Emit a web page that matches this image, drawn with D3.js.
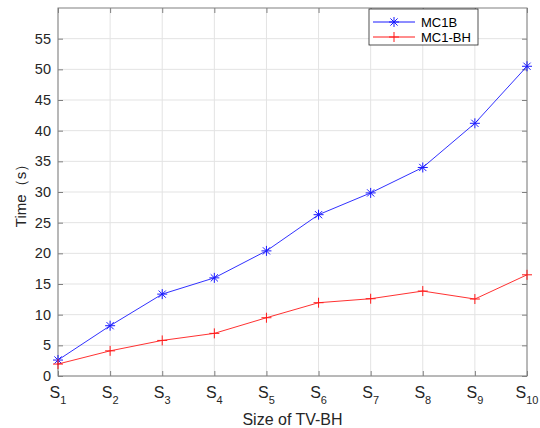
<!DOCTYPE html>
<html>
<head>
<meta charset="utf-8">
<script src="https://cdn.jsdelivr.net/npm/d3@7"></script>
<style>
  body { margin: 0; background: #fff; }
  svg text { font-family: "Liberation Sans", Arial, sans-serif; }
</style>
</head>
<body>
<svg id="chart" width="540" height="428"></svg>
<script>
// data
var sizes = ["1", "2", "3", "4", "5", "6", "7", "8", "9", "10"];
var mc1b = [2.6, 8.2, 13.35, 16.0, 20.4, 26.3, 29.85, 34.0, 41.2, 50.5];
var mc1bh = [1.95, 4.1, 5.8, 6.95, 9.5, 11.95, 12.6, 13.85, 12.55, 16.5];
var yTicks = [0, 5, 10, 15, 20, 25, 30, 35, 40, 45, 50, 55];

// plot box (note: "top" is taken by window.top)
var plotL = 58, plotR = 527, plotT = 8, plotB = 376;

var svg = d3.select("#chart");

var x = d3.scalePoint()
    .domain(sizes)
    .range([plotL, plotR]);

var y = d3.scaleLinear()
    .domain([0, 60])
    .range([plotB, plotT]);

// grid
svg.append("g")
    .selectAll("line")
    .data(sizes)
    .enter().append("line")
    .attr("x1", function (d) { return x(d); })
    .attr("x2", function (d) { return x(d); })
    .attr("y1", plotT)
    .attr("y2", plotB)
    .style("stroke", "#e3e3e3");

svg.append("g")
    .selectAll("line")
    .data(yTicks)
    .enter().append("line")
    .attr("x1", plotL)
    .attr("x2", plotR)
    .attr("y1", function (d) { return y(d); })
    .attr("y2", function (d) { return y(d); })
    .style("stroke", "#e3e3e3");

// axes (ticks point inward, like matlab)
var axisColor = "#808080";
var xAxis = svg.append("g")
    .attr("transform", "translate(0," + plotB + ")")
    .call(d3.axisBottom(x).tickSize(-5).tickFormat(""));
var xTop = svg.append("g")
    .attr("transform", "translate(0," + plotT + ")")
    .call(d3.axisTop(x).tickSize(-5).tickFormat(""));
var yAxis = svg.append("g")
    .attr("transform", "translate(" + plotL + ",0)")
    .call(d3.axisLeft(y).tickValues(yTicks).tickSize(-5).tickPadding(7));
var yRight = svg.append("g")
    .attr("transform", "translate(" + plotR + ",0)")
    .call(d3.axisRight(y).tickValues(yTicks).tickSize(-5).tickFormat(""));

[xAxis, xTop, yAxis, yRight].forEach(function (g) {
    g.select(".domain").remove();
    g.selectAll(".tick line").style("stroke", axisColor);
});
// plain box instead of axis domain paths
svg.append("rect")
    .attr("x", plotL)
    .attr("y", plotT)
    .attr("width", plotR - plotL)
    .attr("height", plotB - plotT)
    .style("fill", "none")
    .style("stroke", axisColor);

yAxis.selectAll(".tick text")
    .style("font-size", "14.5px")
    .style("fill", "#262626")
    .style("font-family", "Liberation Sans, Arial, sans-serif");

// x tick labels with subscripts
var xl = svg.append("g")
    .selectAll("text")
    .data(sizes)
    .enter().append("text")
    .attr("x", function (d) { return x(d); })
    .attr("y", 398)
    .attr("text-anchor", "middle")
    .style("font-size", "16px")
    .style("fill", "#262626");
xl.append("tspan").text("S");
xl.append("tspan")
    .attr("dy", 6)
    .style("font-size", "11px")
    .text(function (d) { return d; });

// axis titles
svg.append("text")
    .attr("x", (plotL + plotR) / 2)
    .attr("y", 425)
    .attr("text-anchor", "middle")
    .style("font-size", "16px")
    .style("fill", "#262626")
    .text("Size of TV-BH");

svg.append("text")
    .attr("transform", "translate(26," + (plotT + plotB) / 2 + ") rotate(-90)")
    .attr("text-anchor", "middle")
    .style("font-size", "15px")
    .style("fill", "#262626")
    .text("Time（s）");

// series
var line = d3.line()
    .x(function (d, i) { return x(sizes[i]); })
    .y(function (d) { return y(d); });

function star(g, size) {
    var h = size / 2, k = h * 0.72;
    g.append("path")
        .attr("d", "M" + (-h) + ",0H" + h + "M0," + (-h) + "V" + h +
            "M" + (-k) + "," + (-k) + "L" + k + "," + k +
            "M" + (-k) + "," + k + "L" + k + "," + (-k));
}
function plus(g, size) {
    var h = size / 2;
    g.append("path")
        .attr("d", "M" + (-h) + ",0H" + h + "M0," + (-h) + "V" + h);
}

var series = [
    { name: "MC1B", values: mc1b, color: "#1a1aff", marker: star },
    { name: "MC1-BH", values: mc1bh, color: "#ff1a1a", marker: plus }
];

series.forEach(function (s) {
    svg.append("path")
        .datum(s.values)
        .attr("d", line)
        .style("fill", "none")
        .style("stroke", s.color)
        .style("stroke-width", 0.9);

    svg.append("g")
        .selectAll("g")
        .data(s.values)
        .enter().append("g")
        .attr("transform", function (d, i) { return "translate(" + x(sizes[i]) + "," + y(d) + ")"; })
        .each(function () { s.marker(d3.select(this), 10); })
        .selectAll("path")
        .style("fill", "none")
        .style("stroke", s.color)
        .style("stroke-width", 1);
});

// legend
var legend = svg.append("g");
legend.append("rect")
    .attr("x", 369)
    .attr("y", 9)
    .attr("width", 109)
    .attr("height", 36)
    .style("fill", "#fff")
    .style("stroke", "#262626")
    .style("stroke-width", 0.8);

series.forEach(function (s, i) {
    var ly = 22 + i * 15;
    legend.append("line")
        .attr("x1", 373)
        .attr("x2", 415)
        .attr("y1", ly)
        .attr("y2", ly)
        .style("stroke", s.color);
    var m = legend.append("g").attr("transform", "translate(394," + ly + ")");
    s.marker(m, 10);
    m.selectAll("path").style("fill", "none").style("stroke", s.color);
    legend.append("text")
        .attr("x", 421)
        .attr("y", ly + 5)
        .style("font-size", "13px")
        .style("fill", "#000")
        .text(s.name);
});
</script>
</body>
</html>
